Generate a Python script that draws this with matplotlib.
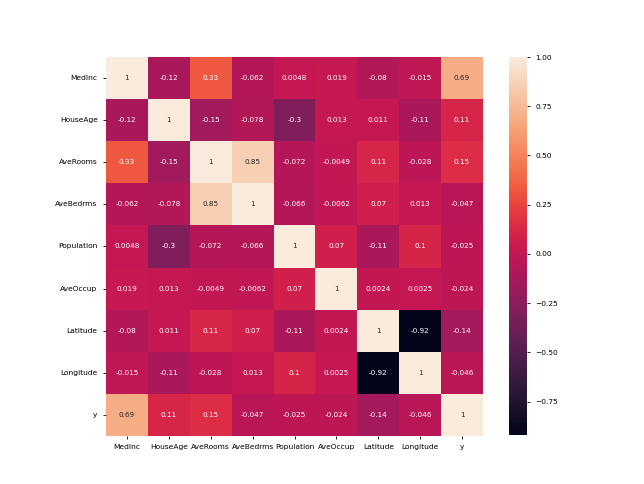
import numpy as np
import matplotlib
matplotlib.use("Agg")
import matplotlib.pyplot as plt
import seaborn as sns

labels = ["MedInc", "HouseAge", "AveRooms", "AveBedrms", "Population",
          "AveOccup", "Latitude", "Longitude", "y"]

row_medinc = [1, -0.12, 0.33, -0.062, 0.0048, 0.019, -0.08, -0.015, 0.69]
row_houseage = [-0.12, 1, -0.15, -0.078, -0.3, 0.013, 0.011, -0.11, 0.11]
row_averooms = [0.33, -0.15, 1, 0.85, -0.072, -0.0049, 0.11, -0.028, 0.15]
row_avebedrms = [-0.062, -0.078, 0.85, 1, -0.066, -0.0062, 0.07, 0.013, -0.047]
row_population = [0.0048, -0.3, -0.072, -0.066, 1, 0.07, -0.11, 0.1, -0.025]
row_aveoccup = [0.019, 0.013, -0.0049, -0.0062, 0.07, 1, 0.0024, 0.0025, -0.024]
row_latitude = [-0.08, 0.011, 0.11, 0.07, -0.11, 0.0024, 1, -0.92, -0.14]
row_longitude = [-0.015, -0.11, -0.028, 0.013, 0.1, 0.0025, -0.92, 1, -0.046]
row_y = [0.69, 0.11, 0.15, -0.047, -0.025, -0.024, -0.14, -0.046, 1]

corr = np.array([row_medinc, row_houseage, row_averooms, row_avebedrms,
                 row_population, row_aveoccup, row_latitude, row_longitude, row_y])

W, H = 644, 484
fig = plt.figure(figsize=(W / 100, H / 100), dpi=100)
ax = fig.add_axes([106 / W, (H - 436) / H, 377 / W, 379 / H])
cax = fig.add_axes([509 / W, (H - 435) / H, 18 / W, 378 / H])

sns.heatmap(corr, annot=True, ax=ax, cbar_ax=cax,
            xticklabels=labels, yticklabels=labels,
            annot_kws={"fontsize": 5.2})
ax.tick_params(labelsize=5.4, length=2.5, width=0.6)
plt.setp(ax.get_yticklabels(), rotation=0)
plt.setp(ax.get_xticklabels(), rotation=0)
cax.tick_params(labelsize=5.4, length=2.5, width=0.6)
cax.set_yticks([-0.75, -0.5, -0.25, 0, 0.25, 0.5, 0.75, 1.0])

fig.savefig("out.png", dpi=100)
